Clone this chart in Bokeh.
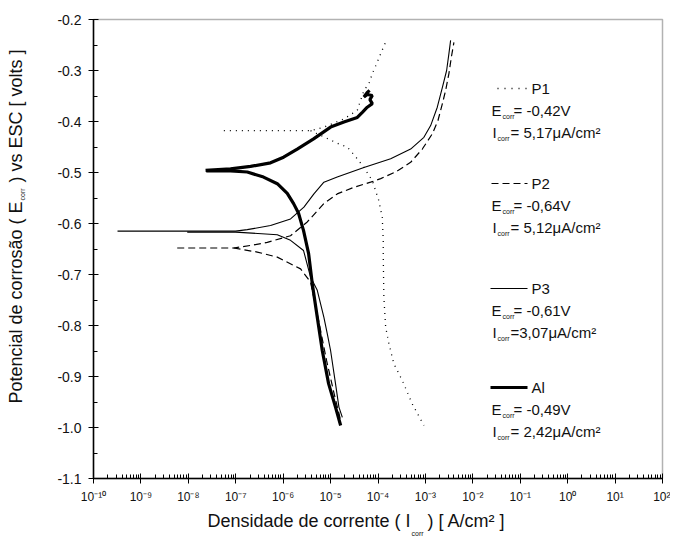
import math
from bokeh.plotting import figure
from bokeh.models import (Label, FixedTicker, NumeralTickFormatter,
                          CustomJSTickFormatter, Range1d, BoxAnnotation)
from bokeh.embed import file_html
from bokeh.resources import INLINE

# ---------------- data (current density in A/cm², potential in V vs ESC) ----
al_anodic_i = [2.31e-8, 7.76e-8, 2.05e-7, 5.42e-7, 1.02e-6, 1.98e-6, 4.38e-6, 1.0e-5,
               1.91e-5, 3.66e-5, 4.67e-5, 5.94e-5, 7.59e-5, 6.75e-5, 7.59e-5, 5.94e-5,
               5.05e-5, 5.94e-5, 6.65e-5]
al_anodic_e = [-0.496, -0.493, -0.488, -0.481, -0.470, -0.454, -0.434, -0.411,
               -0.401, -0.392, -0.382, -0.372, -0.365, -0.357, -0.349, -0.347,
               -0.352, -0.343, -0.339]
al_cath_i = [2.39e-8, 7.76e-8, 1.75e-7, 3.85e-7, 7.52e-7, 1.22e-6, 1.66e-6, 2.11e-6,
             2.69e-6, 3.44e-6, 4.11e-6, 5.24e-6, 6.68e-6, 9.08e-6, 1.27e-5, 1.63e-5]
al_cath_e = [-0.497, -0.497, -0.499, -0.509, -0.522, -0.541, -0.561, -0.580,
             -0.614, -0.659, -0.718, -0.784, -0.849, -0.914, -0.960, -0.996]

p3_anodic_i = [3.21e-10, 9.48e-9, 9.91e-8, 1.75e-7, 5.42e-7, 1.43e-6, 2.74e-6, 4.45e-6,
               7.23e-6, 1.38e-5, 5.05e-5, 1.85e-4, 4.88e-4, 9.29e-4, 1.29e-3, 1.78e-3,
               2.28e-3, 2.80e-3, 3.13e-3, 3.40e-3]
p3_anodic_e = [-0.615, -0.615, -0.615, -0.612, -0.604, -0.591, -0.568, -0.542,
               -0.519, -0.509, -0.490, -0.473, -0.454, -0.431, -0.408, -0.372,
               -0.333, -0.300, -0.267, -0.241]
p3_cath_i = [9.48e-9, 9.91e-8, 7.52e-7, 1.43e-6, 2.69e-6, 3.78e-6, 5.24e-6, 7.23e-6,
             8.51e-6, 1.0e-5, 1.27e-5, 1.50e-5, 1.77e-5]
p3_cath_e = [-0.617, -0.617, -0.622, -0.633, -0.653, -0.705, -0.731, -0.784,
             -0.816, -0.849, -0.914, -0.960, -0.980]

p2_anodic_i = [5.83e-9, 8.99e-8, 2.05e-7, 4.62e-7, 1.43e-6, 3.22e-6, 7.23e-6, 1.38e-5,
               3.10e-5, 6.98e-5, 1.14e-4, 2.35e-4, 4.88e-4, 8.61e-4, 1.40e-3, 1.84e-3,
               2.28e-3, 2.67e-3, 3.13e-3, 3.52e-3, 3.99e-3]
p2_anodic_e = [-0.648, -0.648, -0.643, -0.637, -0.624, -0.597, -0.561, -0.542,
               -0.529, -0.519, -0.512, -0.499, -0.480, -0.454, -0.424, -0.398,
               -0.365, -0.339, -0.306, -0.274, -0.245]
p2_cath_i = [8.99e-8, 2.84e-7, 7.52e-7, 2.33e-6, 3.78e-6, 5.58e-6, 8.24e-6, 1.21e-5, 1.63e-5]
p2_cath_e = [-0.648, -0.656, -0.666, -0.689, -0.715, -0.790, -0.869, -0.937, -0.986]

p1_anodic_i = [5.61e-8, 3.78e-6, 7.23e-6, 1.91e-5, 3.66e-5, 5.05e-5, 6.43e-5, 7.59e-5,
               9.33e-5, 1.14e-4, 1.50e-4]
p1_anodic_e = [-0.418, -0.418, -0.411, -0.395, -0.378, -0.339, -0.326, -0.306,
               -0.287, -0.267, -0.241]
p1_cath_i = [3.78e-6, 1.50e-5, 2.25e-5, 3.37e-5, 5.05e-5, 7.59e-5, 1.04e-4, 1.23e-4,
             1.29e-4, 1.29e-4, 1.33e-4, 1.45e-4, 1.70e-4, 2.16e-4, 3.26e-4, 5.30e-4, 9.29e-4]
p1_cath_e = [-0.418, -0.444, -0.450, -0.469, -0.490, -0.516, -0.555, -0.588,
             -0.633, -0.663, -0.745, -0.803, -0.836, -0.875, -0.908, -0.954, -0.996]

legend_names = ["P1", "P2", "P3", "Al"]
legend_ecorr = ["= -0,42V", "= -0,64V", "= -0,61V", "= -0,49V"]
legend_icorr = ["= 5,17\u03bcA/cm\u00b2", "= 5,12\u03bcA/cm\u00b2", "=3,07\u03bcA/cm\u00b2", "= 2,42\u03bcA/cm\u00b2"]

x_tick_exps = [-10, -9, -8, -7, -6, -5, -4, -3, -2, -1, 0, 1, 2]
x_tick_labels = ["10\u207b\u00b9\u2070", "10\u207b\u2079", "10\u207b\u2078", "10\u207b\u2077",
                 "10\u207b\u2076", "10\u207b\u2075", "10\u207b\u2074", "10\u207b\u00b3",
                 "10\u207b\u00b2", "10\u207b\u00b9", "10\u2070", "10\u00b9", "10\u00b2"]
y_ticks = [-1.1, -1.0, -0.9, -0.8, -0.7, -0.6, -0.5, -0.4, -0.3, -0.2]

# ---------------- layout helpers ----------------
X_LO, X_HI = -10, 2          # decades shown by the axes
Y_LO, Y_HI = -1.1, -0.2
FL, FT, FW, FH = 93, 19, 569, 459   # axes box position on the canvas (px)
CW, CH = 670, 545                   # canvas size (px)
FONT = "Liberation Sans"


def dx(X):
    return 10 ** (X_LO + (X - FL) / FW * (X_HI - X_LO))


def dy(Y):
    return Y_HI - (Y - FT) / FH * (Y_HI - Y_LO)


p = figure(x_axis_type="log", x_range=Range1d(dx(0), dx(CW)),
           y_range=Range1d(dy(CH), dy(0)), frame_width=CW, frame_height=CH,
           min_border=0, output_backend="svg", toolbar_location=None)
p.background_fill_color = "white"
p.border_fill_color = "white"
p.outline_line_color = None
p.xgrid.visible = False
p.ygrid.visible = False

# axes box (top and right edges)
p.add_layout(BoxAnnotation(left=10.0 ** X_LO, right=10.0 ** X_HI, bottom=Y_LO, top=Y_HI,
                           fill_alpha=0, line_color="black", line_width=1.5))

# x axis
p.xaxis.fixed_location = Y_LO
p.xaxis.bounds = (10.0 ** X_LO, 10.0 ** X_HI)
p.xaxis.ticker = FixedTicker(ticks=[10.0 ** e for e in x_tick_exps],
                             minor_ticks=[m * 10.0 ** e for e in x_tick_exps[:-1] for m in range(2, 10)])
p.xaxis.formatter = CustomJSTickFormatter(args=dict(exps=x_tick_exps, labels=x_tick_labels), code="""
    const e = Math.round(Math.log10(tick));
    const i = exps.indexOf(e);
    return i >= 0 ? labels[i] : '';
""")
# y axis
p.yaxis.fixed_location = 10.0 ** X_LO
p.yaxis.bounds = (Y_LO, Y_HI)
p.yaxis.ticker = FixedTicker(ticks=y_ticks,
                             minor_ticks=[round(t + 0.05, 2) for t in y_ticks[:-1]])
p.yaxis.formatter = NumeralTickFormatter(format="0.0")

for ax in (p.xaxis, p.yaxis):
    ax.axis_line_color = "black"
    ax.axis_line_width = 1.5
    ax.major_tick_line_color = "black"
    ax.minor_tick_line_color = "black"
    ax.major_tick_in = 5
    ax.major_tick_out = 5
    ax.minor_tick_in = 4
    ax.minor_tick_out = 0
    ax.major_label_text_font = FONT
    ax.major_label_text_color = "#111111"
p.xaxis.major_label_text_font_size = "12px"
p.xaxis.major_label_standoff = 6
p.yaxis.major_label_text_font_size = "14px"
p.yaxis.major_label_standoff = 7

# ---------------- curves ----------------
p.line(p1_anodic_i, p1_anodic_e, line_color="black", line_width=1.3, line_dash="1 5")
p.line(p1_cath_i, p1_cath_e, line_color="black", line_width=1.3, line_dash="1 5")
p.line(p2_anodic_i, p2_anodic_e, line_color="black", line_width=1.2, line_dash="7 4")
p.line(p2_cath_i, p2_cath_e, line_color="black", line_width=1.2, line_dash="7 4")
p.line(p3_anodic_i, p3_anodic_e, line_color="black", line_width=1.1)
p.line(p3_cath_i, p3_cath_e, line_color="black", line_width=1.1)
p.line(al_anodic_i, al_anodic_e, line_color="black", line_width=3.2)
p.line(al_cath_i, al_cath_e, line_color="black", line_width=3.2)


def add_text(X, Y, text, size, align="left", angle=0.0):
    p.add_layout(Label(x=dx(X), y=dy(Y), text=text, text_font=FONT,
                       text_font_size=f"{size}px", text_align=align,
                       text_baseline="middle", angle=angle, text_color="#111111"))


# ---------------- manual legend ----------------
legend_rows = [88, 183, 288, 387]
legend_styles = [dict(line_width=1.6, line_dash="1 6"), dict(line_width=1.2, line_dash="7 4"),
                 dict(line_width=1.1), dict(line_width=3.2)]
legend_x0 = [497, 491, 490, 490]
for k, name in enumerate(legend_names):
    Y = legend_rows[k]
    p.line([dx(legend_x0[k]), dx(527)], [dy(Y), dy(Y)], line_color="black", **legend_styles[k])
    add_text(531, Y, name, 15)
    add_text(491, Y + 22, "E", 15)
    add_text(502, Y + 28, "corr", 7)
    add_text(513, Y + 22, legend_ecorr[k], 15)
    add_text(492, Y + 44, "I", 15)
    add_text(497, Y + 50, "corr", 7)
    add_text(510, Y + 44, legend_icorr[k], 15)

# ---------------- axis titles ----------------
add_text(410, 520, "Densidade de corrente ( I", 18, align="right")
add_text(411, 533, "corr", 7)
add_text(427, 520, ") [ A/cm\u00b2 ]", 18)

add_text(15, 201, "Potencial de corros\u00e3o ( E", 18, align="right", angle=math.pi / 2)
add_text(22, 200, "corr", 7, angle=math.pi / 2)
add_text(15, 182, ") vs ESC [ volts ]", 18, angle=math.pi / 2)

open("out.html", "w").write(file_html(p, INLINE))
